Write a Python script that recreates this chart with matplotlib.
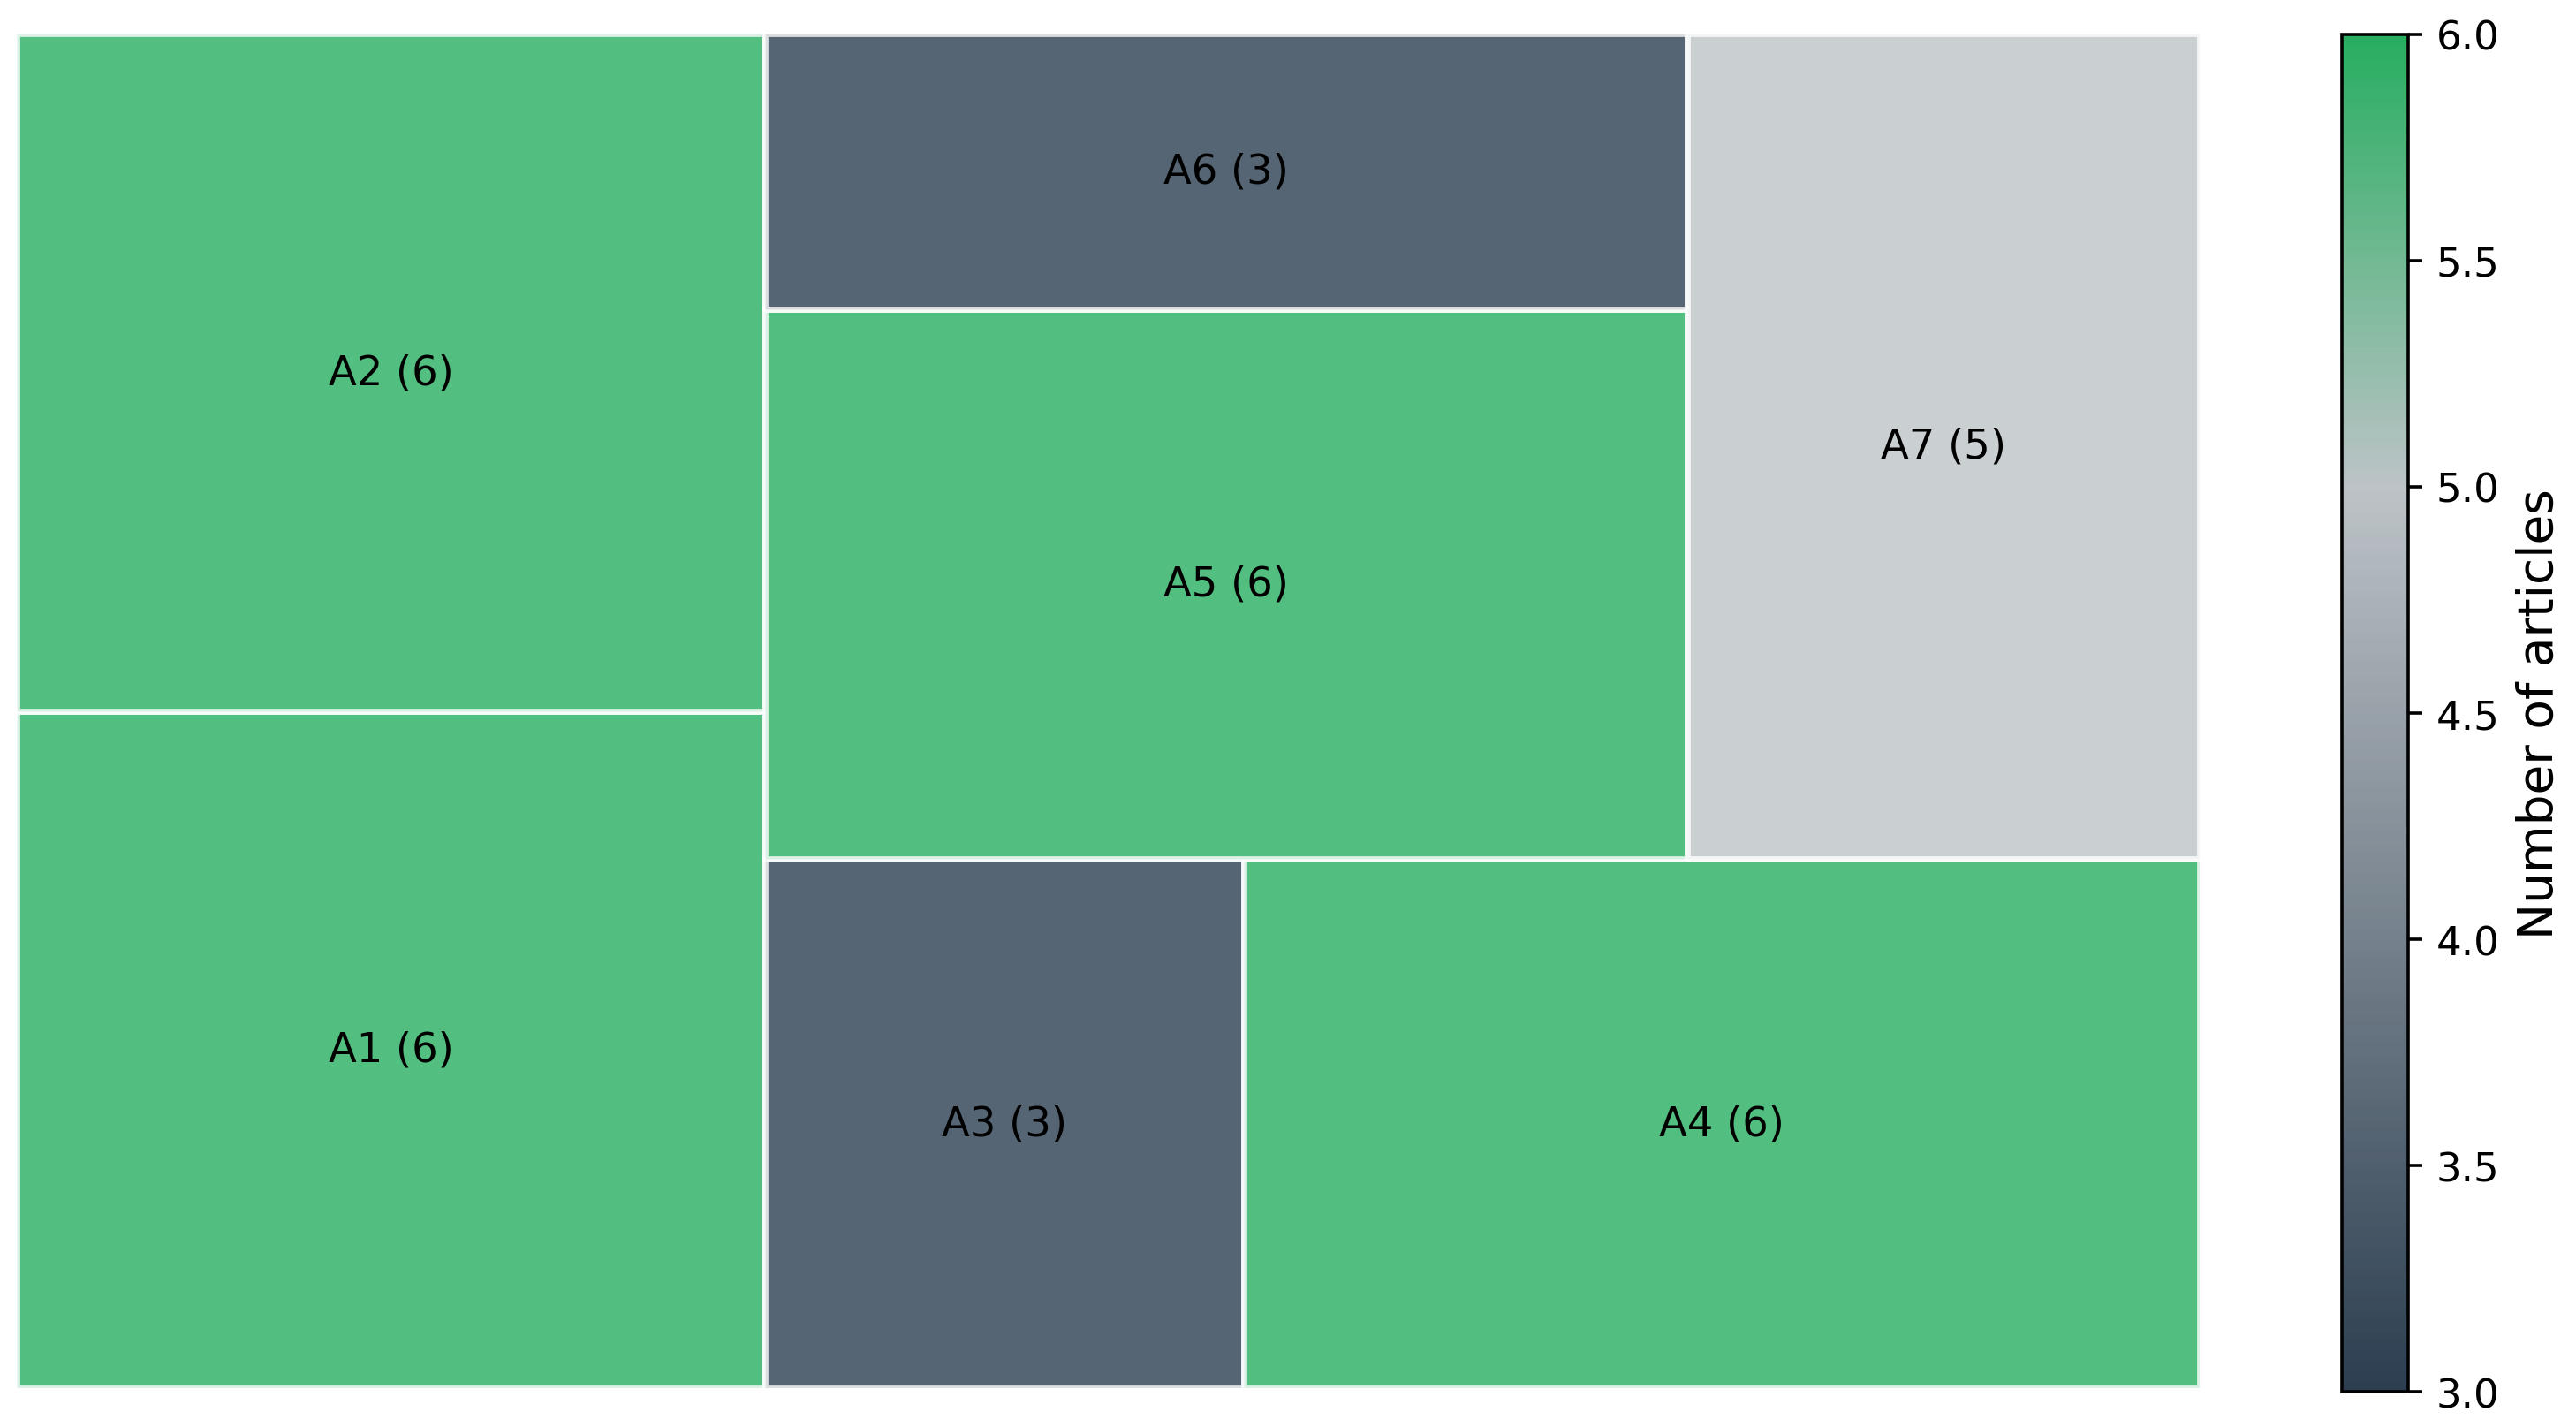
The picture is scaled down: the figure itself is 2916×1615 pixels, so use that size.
# Treemap de artículos por categoría (A1..A7), coloreado por número de artículos
import matplotlib.pyplot as plt
import matplotlib.colors as mcolors
import matplotlib.cm as cm

labels = ["A1", "A2", "A3", "A4", "A5", "A6", "A7"]
counts = [6, 6, 3, 6, 6, 3, 5]


def layout(sizes, x, y, dx, dy):
    rects = []
    if dx >= dy:
        width = sum(sizes) / dy
        for s in sizes:
            rects.append((x, y, width, s / width))
            y += s / width
    else:
        height = sum(sizes) / dx
        for s in sizes:
            rects.append((x, y, s / height, height))
            x += s / height
    return rects


def leftover(sizes, x, y, dx, dy):
    if dx >= dy:
        width = sum(sizes) / dy
        return x + width, y, dx - width, dy
    height = sum(sizes) / dx
    return x, y + height, dx, dy - height


def worst(sizes, x, y, dx, dy):
    return max(max(w / h, h / w) for _, _, w, h in layout(sizes, x, y, dx, dy))


def squarify(sizes, x, y, dx, dy):
    if len(sizes) == 0:
        return []
    if len(sizes) == 1:
        return layout(sizes, x, y, dx, dy)
    i = 1
    while i < len(sizes) and worst(sizes[:i], x, y, dx, dy) >= worst(sizes[:i + 1], x, y, dx, dy):
        i += 1
    cur, rest = sizes[:i], sizes[i:]
    lx, ly, ldx, ldy = leftover(cur, x, y, dx, dy)
    return layout(cur, x, y, dx, dy) + squarify(rest, lx, ly, ldx, ldy)


total = sum(counts)
sizes = [c * 100 * 100 / total for c in counts]
rects = squarify(sizes, 0, 0, 100, 100)

cmap = mcolors.LinearSegmentedColormap.from_list(
    "articles", [(0, "#2c3e50"), (2 / 3, "#bdc3c7"), (1, "#27ae60")])
norm = mcolors.Normalize(vmin=min(counts), vmax=max(counts))

fig = plt.figure(figsize=(2916 / 325, 1616 / 325), dpi=325)
ax = fig.add_axes([0.00652, 0.02692, 0.84756, 0.94864])
cax = fig.add_axes([0.9091, 0.02475, 0.0257, 0.9505])

for (x, y, w, h), lab, c in zip(rects, labels, counts):
    ax.bar(x, h, width=w, bottom=y, align="edge", color=cmap(norm(c)),
           alpha=0.8, edgecolor="white", linewidth=1.5)
    ax.text(x + w / 2, y + h / 2, f"{lab} ({c})", ha="center", va="center", fontsize=10.3)

ax.set_xlim(0, 100)
ax.set_ylim(0, 100)
ax.axis("off")

sm = cm.ScalarMappable(cmap=cmap, norm=norm)
cb = fig.colorbar(sm, cax=cax)
cb.set_label("Number of articles", fontsize=12.2)
cb.ax.tick_params(labelsize=10)

fig.savefig("out.png", dpi=325)
